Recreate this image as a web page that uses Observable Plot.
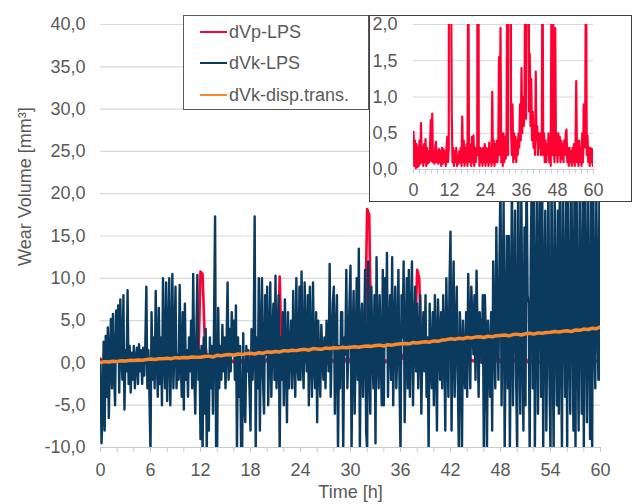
<!DOCTYPE html>
<html><head><meta charset="utf-8">
<script src="https://cdn.jsdelivr.net/npm/d3@7"></script>
<script src="https://cdn.jsdelivr.net/npm/@observablehq/plot@0.6"></script>
<style>
body{margin:0;background:#fff;}
#wrap{position:relative;width:632px;height:504px;font-family:"Liberation Sans",Arial,sans-serif;color:#595959;}
#legend{position:absolute;left:183px;top:15px;width:186px;height:95px;border:1.5px solid #595959;background:#fff;box-sizing:border-box;}
.row{position:absolute;left:0;height:20px;line-height:20px;font-size:18px;white-space:nowrap;}
.sw{position:absolute;left:16px;top:9px;width:27px;height:0;border-top:2.5px solid;}
.lt{position:absolute;left:45px;top:0;}
#inset{position:absolute;left:369px;top:15px;width:263px;height:187px;border:1.5px solid #404040;background:#fff;box-sizing:border-box;}
#inset svg{overflow:visible;}
</style>
</head><body>
<div id="wrap"><div id="main"></div><div id="legend"></div><div id="inset"></div></div>
<script>
const seriesNames = ["dVp-LPS", "dVk-LPS", "dVk-disp.trans."];
const seriesColors = ["#ff0033", "#0b3a5f", "#f7882d"];
const stepRed = 0.25;    // hours between samples of dVp-LPS
const stepBlue = 0.125;  // hours between samples of dVk-LPS
const stepOrange = 0.5;  // hours between samples of dVk-disp.trans.

const dVp = [
0.52,0.05,0.4,0.02, 0.35,0.03,0.3,0.05, 0.4,0.08,0.64,0.1, 0.3,0.05,0.35,0.1,
0.42,0.05,0.3,0.08, 0.25,0.1,0.3,0.68, 0.12,0.77,0.1,0.25, 0.08,0.3,0.38,0.1,
0.25,0.08,0.28,0.1, 0.25,0.05,0.3,0.08, 0.28,0.1,0.25,0.05, 0.3,0.45,0.1,0.3,
10.8,10.5,3.0,0.78, 0.1,0.3,0.05,0.25, 0.1,0.3,0.05,0.2, 0.08,0.25,0.1,0.3,
0.05,0.73,0.1,0.4, 0.05,0.3,0.1,0.35, 0.05,3.5,0.1,0.35, 0.3,0.05,0.45,0.1,
0.47,0.05,0.3,0.1, 0.3,0.2,10.2,0.3, 0.05,0.3,0.1,0.28, 0.05,0.3,0.1,0.35,
0.05,0.3,0.1,0.28, 0.05,0.37,0.1,0.3, 0.05,1.07,0.1,0.4, 0.05,0.35,0.1,0.4,
0.1,0.3,1.55,0.2, 1.95,0.1,0.5,0.05, 0.5,0.1,0.45,0.15, 0.4,2.8,0.2,4.0,
18.2,17.5,0.6,0.2, 0.9,0.1,0.5,0.15, 0.45,0.1,0.4,0.2, 0.5,0.3,0.9,0.4,
1.4,0.5,1.0,0.6, 0.8,3.0,0.7,2.5, 11.0,10.0,0.8,1.6, 0.6,1.25,0.4,0.8,
0.3,0.6,0.2,1.35, 0.4,0.6,0.2,0.5, 0.3,0.5,0.2,0.4, 3.2,0.2,0.5,0.1,
0.4,0.1,0.35,0.2, 0.5,0.1,0.3,0.05, 2.6,0.2,3.0,0.3, 0.1,1.95,0.2,0.5,
0.1,0.5,0.2,0.45, 0.1,0.4,0.15,0.35, 0.1,0.4,0.2,0.5, 0.55,0.1,0.3,0.05,
0.3,0.1,0.25,0.05, 0.3,0.1,0.35,0.05, 0.3,1.22,0.1,0.4, 0.05,0.4,0.1,0.3,
0.05,0.5,0.1,0.9, 0.3,0.8,3.3,0.2, 0.47,0.1,0.3,0.05, 0.3,0.1,0.28,0.05,
0.2];

const dVk = [
0.3,-9.5,-6,2.5,-8,3.2,-4,4.2,
-6.5,1,5.2,-3,5.8,-1,-5,6.2,
0.5,6.8,-3.5,7.5,1,-2,8.0,-5.5,
1.5,-1,8.6,-2.5,2,-3.5,1.2,-2,
2,-3,0.5,1.8,-2.5,2.2,-1,1.5,
-2.5,1.8,-1.5,2,9,-3,1.5,-4,
-10.5,6,-2,3,-3,8.5,1,-4,
6.5,-2.5,3,-5,10,0.5,-3,9.5,
-4.5,2,10,-5,1.5,10.5,-3,2.5,
9,-3,1,-2,9.2,0.5,-4,6,
-5.5,7,-2,1.5,-4,3,-1,5,
-3,10.5,-1,-6,3,10.4,-2,1.5,
-9,2,-10.5,3,-6,4,-10.5,1,
-8,3,-3,2,-6,5,17.3,-10.5,
-10.5,6.5,-3,2,-2,4.5,-1,3,
-3,2,9.5,-2,4,-1,6,1,
5,-2,6.8,-10.5,3,-4,2,-10.5,
-10.5,3.5,-5,-7,2,-1,1.5,-3,
-8,4,-2,2,17.3,-10.5,3,-3,
10,-8,3,10,-2,-6,8,1,
9,-5,2,9.5,-4,3,7,-2,
10.3,-3,2,8,-10.5,3,-2,6,
-5,7.5,1,-7,6,-3,2,5,
-3,8.5,1,-4,10,0,-2,9,
-2,10.8,1,-3,9.5,2,-1,8,
-5,9,1,-4,9.5,0,-3,6,
-7,5,0,-4,4.5,1,-2,3,
-3,5,2,-1,11.7,-4,2,7,
9,-6,3,8,-10.5,2,-3,6,
6,-10.5,3,1,11,-3,2,7,
11.5,-10.5,3,8.5,-6,2,10,-2,
13.5,-10.5,4,7,-4,2,11,-8,
-10.5,12,1,-6,9,2,-3,8,
-9.5,12.5,2,-3,8,1,-5,11,
-5,10,2,13,-4,3,8,-2,
12.5,-5,4,9,-3,2,11,-2,
-10.5,8,3,12,-7,2,10,-3,
11,-4,4,12,-5,3,9,-1,
7,-3,3,8,-6,2,6,-1,
8,-4,3,-10.5,7,1,-3,6,
-5,8,2,-8,7.5,3,-2,6,
-3,8,3,-8,10,2,-4,9,
15.5,-8,4,12,-4,3,9,-2,
-10.5,6,2,-10.5,5,1,-3,6,
-4,10.5,4,-3,9,5,1,8,
-2,10.9,4,-4,6,3,0,8,
-10.5,8,3,-10.5,5,2,-4,6,
-8,12,4,-3,16,5,-2,12,
22,-5,6,19,-10.5,4,15,-3,
15,-10.5,5,22,-5,8,18,-2,
-10.5,24,5,-6,20,3,-8,16,
-5,25,8,7,-10.5,12,22,-3,
22,-10.5,6,20,-6,10,24,-4,
24,-10.5,8,18,-8,5,22,-2,
-10.5,22,4,-10.5,20,6,-5,18,
-6,25,3,-10.5,21,8,-4,19,
-10.5,20,5,-6,23,9,-8,20,
-10.5,22,4,-8,20,7,-6,24,
-10.5,24,6,-7,21,5,-9,22,
-10.5,23,4,-3,20,6,-2,21,
-2];

const dVkDisp = [
0.05,0.15,0.1,0.2,0.18,0.25,0.22,0.3,0.28,0.35,0.3,0.4,0.45,
0.4,0.5,0.48,0.55,0.5,0.62,0.58,0.65,0.6,0.7,0.68,0.66,
0.75,0.8,0.7,0.9,0.85,0.95,1.0,0.9,1.05,1.0,1.1,1.13,
1.05,1.2,1.15,1.3,1.25,1.35,1.3,1.45,1.4,1.5,1.45,1.55,
1.6,1.5,1.7,1.65,1.6,1.75,1.7,1.8,1.75,1.85,1.8,1.85,
1.9,1.85,1.95,2.0,1.95,2.05,2.1,2.0,2.15,2.1,2.2,2.25,
2.3,2.25,2.4,2.35,2.45,2.5,2.45,2.6,2.55,2.7,2.75,2.85,
2.8,2.9,2.85,3.0,2.95,3.05,3.1,3.0,3.15,3.1,3.2,3.25,
3.3,3.2,3.35,3.4,3.3,3.45,3.5,3.4,3.55,3.5,3.6,3.62,
3.7,3.65,3.75,3.8,3.7,3.9,3.85,4.0,3.95,4.1,4.05,4.25];

const yTicksMain = [-10,-5,0,5,10,15,20,25,30,35,40];
const xTicksMain = [0,6,12,18,24,30,36,42,48,54,60];
const xMinor = [0,2,4,6,8,10,12,14,16,18,20,22,24,26,28,30,32,34,36,38,40,42,44,46,48,50,52,54,56,58,60];
const yTicksInset = [0,0.5,1,1.5,2];
const xTicksInset = [0,12,24,36,48,60];
const xLabel = "Time [h]";
const yLabel = "Wear Volume [mm³]";

const toRows = (arr, dt) => arr.map((v, i) => ({t: i * dt, v}));
const red = toRows(dVp, stepRed), blue = toRows(dVk, stepBlue), orange = toRows(dVkDisp, stepOrange);
const fmt = d => d.toFixed(1).replace(".", ",");
const font = {fontFamily: '"Liberation Sans", Arial, sans-serif', fontSize: "18px", color: "#595959", background: "#fff", overflow: "visible"};

const main = Plot.plot({
  width: 632, height: 504,
  marginLeft: 100, marginRight: 32, marginTop: 24, marginBottom: 57,
  x: {domain: [0, 60], label: null},
  y: {domain: [-10, 40], label: null},
  style: font,
  marks: [
    Plot.gridY(yTicksMain.filter(d => d > -10), {stroke: "#d9d9d9", strokeOpacity: 1, strokeWidth: 1.2}),
    Plot.ruleY([-10], {stroke: "#c9c9c9", strokeWidth: 1.2}),
    Plot.axisY(yTicksMain, {tickSize: 0, tickPadding: 15, tickFormat: fmt, fill: "#595959"}),
    Plot.axisX(xMinor, {tickSize: 5, stroke: "#c9c9c9", tickFormat: () => ""}),
    Plot.axisX(xTicksMain, {tickSize: 0, tickPadding: 16, fill: "#595959"}),
    Plot.line(red, {x: "t", y: "v", stroke: seriesColors[0], strokeWidth: 2.6, clip: true}),
    Plot.line(blue, {x: "t", y: "v", stroke: seriesColors[1], strokeWidth: 2.4, clip: true}),
    Plot.line(orange, {x: "t", y: "v", stroke: seriesColors[2], strokeWidth: 3.5, clip: true}),
    Plot.text([xLabel], {text: d => d, frameAnchor: "bottom", dy: 50, fill: "#595959", fontSize: 18}),
    Plot.text([yLabel], {text: d => d, frameAnchor: "left", rotate: -90, dx: -75, dy: 30, fill: "#595959", fontSize: 18})
  ]
});
document.getElementById("main").appendChild(main);

const inset = Plot.plot({
  width: 260, height: 184,
  marginLeft: 43, marginRight: 37, marginTop: 8, marginBottom: 31,
  x: {domain: [0, 60], label: null},
  y: {domain: [0, 2], label: null},
  style: font,
  marks: [
    Plot.gridY(yTicksInset.filter(d => d > 0), {stroke: "#d9d9d9", strokeOpacity: 1, strokeWidth: 1.2}),
    Plot.ruleY([0], {stroke: "#c9c9c9", strokeWidth: 1.2}),
    Plot.axisY(yTicksInset, {tickSize: 0, tickPadding: 16, tickFormat: fmt, fill: "#595959"}),
    Plot.axisX(xMinor, {tickSize: 4, stroke: "#c9c9c9", tickFormat: () => ""}),
    Plot.axisX(xTicksInset, {tickSize: 0, tickPadding: 14, fill: "#595959"}),
    Plot.line(red, {x: "t", y: "v", stroke: seriesColors[0], strokeWidth: 2.2, clip: true})
  ]
});
document.getElementById("inset").appendChild(inset);

const leg = document.getElementById("legend");
const centers = [15.5, 47, 78.5];
seriesNames.forEach((name, i) => {
  const row = document.createElement("div");
  row.className = "row";
  row.style.top = (centers[i] - 10) + "px";
  row.innerHTML = `<div class="sw" style="border-top-color:${seriesColors[i]}"></div><div class="lt">${name}</div>`;
  leg.appendChild(row);
});
</script>
</body></html>
